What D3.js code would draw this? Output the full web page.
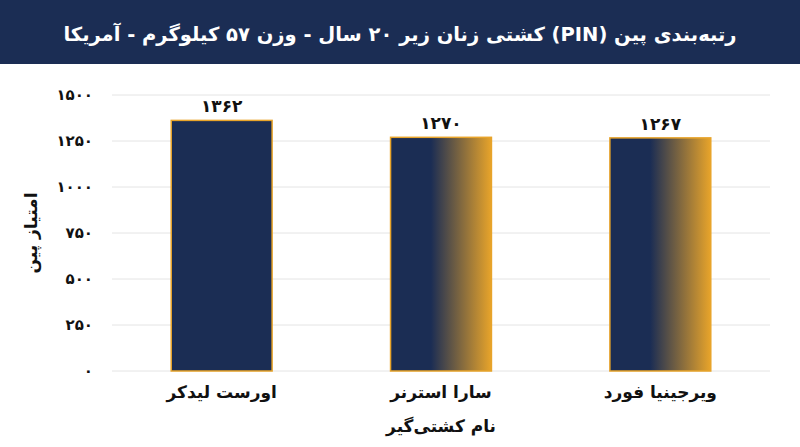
<!DOCTYPE html><html><head><meta charset="utf-8"><script src="https://cdn.jsdelivr.net/npm/d3@7"></script>
<style>body{margin:0;background:#fff}text{font-family:"DejaVu Sans",sans-serif;font-weight:bold}</style></head><body>
<svg id="c" width="800" height="447"></svg>
<script>
const categories=["اورست لیدکر","سارا استرنر","ویرجینیا فورد"];
const values=[1362,1270,1267];
const tickValues=[0,250,500,750,1000,1250,1500];
const title="رتبه‌بندی پین (PIN) کشتی زنان زیر ۲۰ سال - وزن ۵۷ کیلوگرم - آمریکا";
const fa=n=>String(n).replace(/\d/g,d=>"۰۱۲۳۴۵۶۷۸۹"[d]);
const svg=d3.select("#c");
svg.append("rect").attr("width",800).attr("height",64).attr("fill","#1b2d54");
svg.append("text").attr("x",400).attr("y",41).attr("text-anchor","middle").attr("fill","#fff").attr("font-size",19.5).attr("direction","rtl").text(title);
const defs=svg.append("defs");
const g=defs.append("linearGradient").attr("id","gr");
g.append("stop").attr("offset","0%").attr("stop-color","#1b2d54");
g.append("stop").attr("offset","40%").attr("stop-color","#1b2d54");
g.append("stop").attr("offset","100%").attr("stop-color","#e8a42a");
const x=d3.scaleBand().domain(categories).range([112,770]).paddingInner(0.54).paddingOuter(0.27);
const y=d3.scaleLinear().domain([0,1500]).range([371,95]);
svg.append("g").selectAll("line").data(tickValues).join("line").attr("x1",112).attr("x2",770).attr("y1",d=>y(d)).attr("y2",d=>y(d)).attr("stroke","#e4e4e4");
svg.append("g").selectAll("text").data(tickValues).join("text").attr("x",93).attr("y",d=>y(d)+5).attr("text-anchor","end").attr("font-size",15).attr("fill","#111").text(d=>fa(d));
svg.append("g").selectAll("rect").data(values).join("rect").attr("x",(d,i)=>x(categories[i])).attr("width",x.bandwidth()).attr("y",d=>y(d)).attr("height",d=>371-y(d))
 .attr("fill",(d,i)=>i==0?"#1b2d54":"url(#gr)").attr("stroke","#e8a42a").attr("stroke-width",1.5);
svg.append("g").selectAll("text").data(values).join("text").attr("x",(d,i)=>x(categories[i])+x.bandwidth()/2).attr("y",d=>y(d)-8).attr("text-anchor","middle").attr("font-size",17).attr("fill","#111").text(d=>fa(d));
svg.append("g").selectAll("text").data(categories).join("text").attr("x",d=>x(d)+x.bandwidth()/2).attr("y",398).attr("text-anchor","middle").attr("font-size",17).attr("fill","#111").attr("direction","rtl").text(d=>d);
svg.append("text").attr("x",441).attr("y",432).attr("text-anchor","middle").attr("font-size",17).attr("fill","#111").attr("direction","rtl").text("نام کشتی‌گیر");
svg.append("text").attr("transform","translate(37,233) rotate(-90)").attr("text-anchor","middle").attr("font-size",17).attr("fill","#111").attr("direction","rtl").text("امتیاز پین");
</script></body></html>
